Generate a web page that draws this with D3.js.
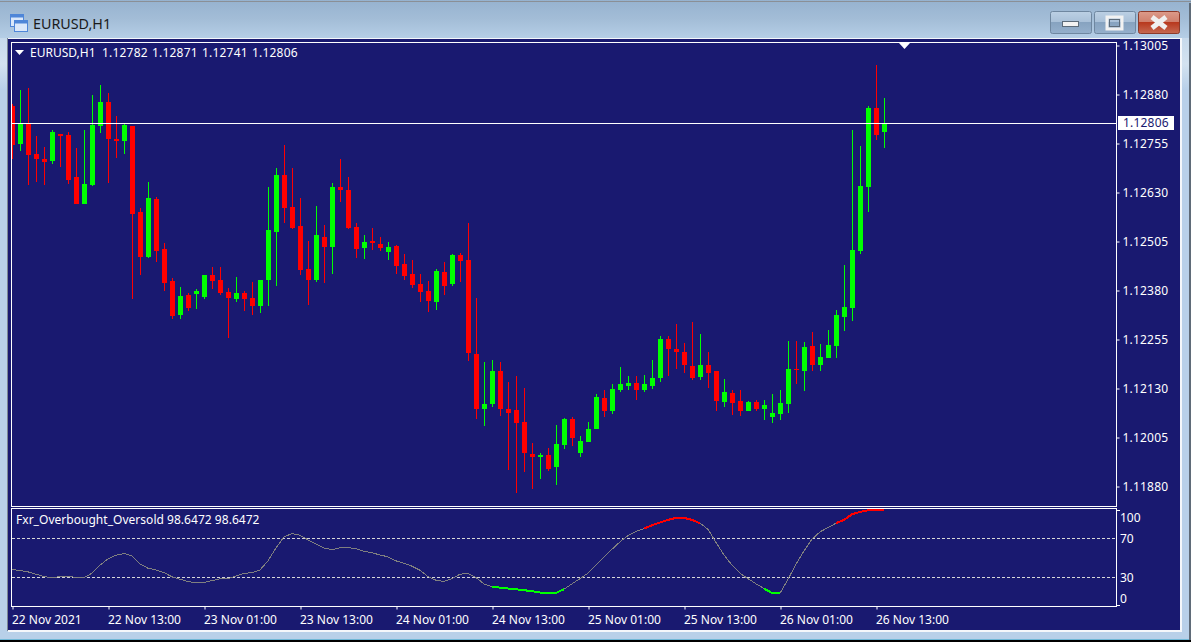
<!DOCTYPE html>
<html>
<head>
<meta charset="utf-8">
<title>EURUSD,H1</title>
<script src="https://cdn.jsdelivr.net/npm/d3@7"></script>
<style>
  html, body { margin: 0; padding: 0; background: #000; }
  svg { display: block; }
  text { font-family: "Noto Sans", sans-serif; }
</style>
</head>
<body>
<div id="canvas"></div>
<script>
// Constants related to the size of the canvas.
const WIDTH = 1191;
const HEIGHT = 642;

// Chart areas.
const LEFT = 12;
const RIGHT = 1116;
const MAIN_TOP = 42;
const MAIN_BOTTOM = 506;
const SUB_TOP = 508;
const SUB_BOTTOM = 606;

const NAVY = "#191970";
const UP = "#00ff00";
const DOWN = "#ff0000";

// The dataset, one entry per hourly bar.
const opens = [
  1.12849, 1.12752, 1.12806, 1.12727, 1.12714, 1.12709, 1.12778, 1.12775, 1.12668, 1.12599,
  1.12648, 1.12798, 1.12860, 1.12765, 1.12760, 1.12798, 1.12579, 1.12464, 1.12612, 1.12485,
  1.12403, 1.12316, 1.12367, 1.12370, 1.12362, 1.12418, 1.12406, 1.12375, 1.12357, 1.12372,
  1.12360, 1.12339, 1.12406, 1.12528, 1.12673, 1.12592, 1.12543, 1.12434, 1.12406, 1.12515,
  1.12490, 1.12643, 1.12635, 1.12541, 1.12487, 1.12505, 1.12497, 1.12477, 1.12492, 1.12446,
  1.12421, 1.12395, 1.12377, 1.12349, 1.12426, 1.12395, 1.12469, 1.12457, 1.12217, 1.12076,
  1.12089, 1.12173, 1.12076, 1.12074, 1.12043, 1.11962, 1.11954, 1.11959, 1.11928, 1.11985,
  1.12051, 1.11964, 1.11992, 1.12025, 1.12105, 1.12071, 1.12125, 1.12135, 1.12143, 1.12125,
  1.12135, 1.12156, 1.12255, 1.12229, 1.12222, 1.12186, 1.12158, 1.12189, 1.12173, 1.12094,
  1.12117, 1.12097, 1.12071, 1.12094, 1.12076, 1.12056, 1.12064, 1.12089, 1.12178, 1.12173,
  1.12237, 1.12189, 1.12207, 1.12237, 1.12311, 1.12334, 1.12479, 1.12643, 1.12844, 1.12782
];
const highs = [
  1.12854, 1.12890, 1.12895, 1.12773, 1.12745, 1.12788, 1.12778, 1.12783, 1.12742, 1.12788,
  1.12877, 1.12903, 1.12883, 1.12824, 1.12806, 1.12798, 1.12589, 1.12656, 1.12617, 1.12500,
  1.12411, 1.12388, 1.12372, 1.12383, 1.12418, 1.12439, 1.12439, 1.12385, 1.12413, 1.12377,
  1.12400, 1.12406, 1.12643, 1.12691, 1.12750, 1.12691, 1.12615, 1.12505, 1.12594, 1.12546,
  1.12653, 1.12714, 1.12668, 1.12551, 1.12520, 1.12538, 1.12515, 1.12502, 1.12495, 1.12472,
  1.12457, 1.12421, 1.12403, 1.12434, 1.12451, 1.12472, 1.12474, 1.12551, 1.12360, 1.12196,
  1.12201, 1.12196, 1.12145, 1.12161, 1.12130, 1.11990, 1.11964, 1.11977, 1.12036, 1.12053,
  1.12056, 1.12008, 1.12043, 1.12115, 1.12125, 1.12140, 1.12184, 1.12161, 1.12161, 1.12163,
  1.12201, 1.12263, 1.12263, 1.12293, 1.12245, 1.12298, 1.12268, 1.12222, 1.12173, 1.12153,
  1.12125, 1.12125, 1.12097, 1.12099, 1.12099, 1.12115, 1.12125, 1.12250, 1.12250, 1.12247,
  1.12273, 1.12242, 1.12278, 1.12329, 1.12444, 1.12788, 1.12747, 1.12849, 1.12954, 1.12871
];
const lows = [
  1.12714, 1.12735, 1.12648, 1.12656, 1.12648, 1.12701, 1.12694, 1.12650, 1.12599, 1.12599,
  1.12645, 1.12781, 1.12653, 1.12717, 1.12727, 1.12357, 1.12418, 1.12462, 1.12451, 1.12377,
  1.12306, 1.12306, 1.12326, 1.12332, 1.12357, 1.12383, 1.12367, 1.12258, 1.12349, 1.12326,
  1.12316, 1.12321, 1.12339, 1.12390, 1.12551, 1.12536, 1.12418, 1.12342, 1.12400, 1.12398,
  1.12421, 1.12605, 1.12536, 1.12462, 1.12459, 1.12482, 1.12479, 1.12457, 1.12421, 1.12406,
  1.12385, 1.12349, 1.12324, 1.12329, 1.12367, 1.12390, 1.12400, 1.12199, 1.12051, 1.12033,
  1.12082, 1.12059, 1.11921, 1.11862, 1.11916, 1.11872, 1.11898, 1.11918, 1.11883, 1.11974,
  1.11982, 1.11954, 1.11992, 1.12025, 1.12056, 1.12064, 1.12120, 1.12125, 1.12099, 1.12120,
  1.12127, 1.12145, 1.12161, 1.12178, 1.12168, 1.12150, 1.12150, 1.12130, 1.12071, 1.12082,
  1.12061, 1.12059, 1.12071, 1.12071, 1.12048, 1.12041, 1.12048, 1.12066, 1.12140, 1.12122,
  1.12173, 1.12173, 1.12207, 1.12207, 1.12275, 1.12301, 1.12472, 1.12579, 1.12763, 1.12741
];
const closes = [
  1.12750, 1.12806, 1.12724, 1.12714, 1.12707, 1.12783, 1.12773, 1.12661, 1.12599, 1.12650,
  1.12801, 1.12860, 1.12765, 1.12760, 1.12801, 1.12574, 1.12464, 1.12615, 1.12479, 1.12398,
  1.12314, 1.12365, 1.12334, 1.12377, 1.12418, 1.12403, 1.12372, 1.12360, 1.12372, 1.12357,
  1.12339, 1.12406, 1.12533, 1.12673, 1.12589, 1.12538, 1.12431, 1.12406, 1.12520, 1.12490,
  1.12643, 1.12635, 1.12538, 1.12485, 1.12502, 1.12500, 1.12487, 1.12490, 1.12441, 1.12416,
  1.12393, 1.12375, 1.12352, 1.12428, 1.12390, 1.12469, 1.12454, 1.12219, 1.12076, 1.12089,
  1.12173, 1.12076, 1.12066, 1.12041, 1.11964, 1.11954, 1.11959, 1.11923, 1.11987, 1.12051,
  1.12002, 1.11995, 1.12025, 1.12107, 1.12071, 1.12127, 1.12140, 1.12143, 1.12125, 1.12140,
  1.12156, 1.12255, 1.12229, 1.12222, 1.12189, 1.12156, 1.12189, 1.12168, 1.12097, 1.12120,
  1.12092, 1.12071, 1.12094, 1.12076, 1.12087, 1.12066, 1.12092, 1.12178, 1.12176, 1.12235,
  1.12189, 1.12209, 1.12240, 1.12316, 1.12337, 1.12482, 1.12645, 1.12844, 1.12775, 1.12806
];

// Fxr_Overbought_Oversold values for the same bars.
const oscillator = [
  37.2, 36.2, 34.8, 32.4, 30.0, 28.6, 30.0, 30.0, 29.3, 29.0,
  33.4, 41.6, 48.1, 51.9, 53.6, 51.2, 43.0, 38.5, 36.8, 34.1,
  29.7, 27.3, 24.9, 23.5, 23.8, 25.9, 27.6, 27.9, 30.7, 33.1,
  34.1, 36.8, 46.1, 59.4, 70.7, 74.1, 72.4, 67.6, 63.5, 59.1,
  57.7, 59.4, 59.7, 58.7, 56.0, 54.3, 52.2, 50.2, 46.1, 43.7,
  40.6, 36.5, 30.0, 26.2, 24.9, 27.9, 32.4, 33.1, 29.0, 22.5,
  19.4, 18.7, 17.7, 17.0, 16.0, 15.0, 13.6, 12.9, 13.2, 17.0,
  22.5, 27.9, 33.4, 41.6, 49.8, 58.0, 65.6, 72.1, 76.2, 79.2,
  82.6, 85.4, 88.1, 90.2, 90.2, 88.1, 84.7, 78.5, 64.9, 52.2,
  41.6, 33.4, 27.9, 22.5, 17.7, 13.2, 12.9, 27.3, 42.6, 56.3,
  68.3, 75.8, 80.3, 84.7, 88.1, 93.9, 96.3, 98.0, 98.6, 98.6472
];

// Bar ranges where the oscillator is drawn thick.
const overboughtRuns = [[79, 86], [103, 109]];
const oversoldRuns = [[60, 69], [94, 96]];

// Axis labels.
const priceTicks = [1.13005, 1.12880, 1.12755, 1.12630, 1.12505, 1.12380, 1.12255, 1.12130, 1.12005, 1.11880];
const levelTicks = [70, 30];
const timeTicks = [0, 12, 24, 36, 48, 60, 72, 84, 96, 108];
const timeLabels = [
  "22 Nov 2021", "22 Nov 13:00", "23 Nov 01:00", "23 Nov 13:00", "24 Nov 01:00",
  "24 Nov 13:00", "25 Nov 01:00", "25 Nov 13:00", "26 Nov 01:00", "26 Nov 13:00"
];
const lastPrice = 1.12806;
const quote = ["1.12782", "1.12871", "1.12741", "1.12806"];

// Creates the SVG element.
const svg = d3.select("#canvas")
  .append("svg")
  .attr("width", WIDTH)
  .attr("height", HEIGHT);

const defs = svg.append("defs");

function gradient(id, stops) {
  const g = defs.append("linearGradient")
    .attr("id", id)
    .attr("x1", 0).attr("y1", 0)
    .attr("x2", 0).attr("y2", 1);
  stops.forEach(s => g.append("stop").attr("offset", s[0]).attr("stop-color", s[1]));
}

gradient("titleBar", [[0, "#96b2cf"], [0.5, "#a3bdd7"], [1, "#b5cee6"]]);
gradient("sideBar", [[0, "#b5cee6"], [0.1, "#d3e2f0"], [0.14, "#b8d0e9"], [1, "#b8d0e9"]]);
gradient("captionButton", [[0, "#bcd0e4"], [0.48, "#a9c0d8"], [0.5, "#87a3c0"], [1, "#95b0cc"]]);
gradient("closeButton", [[0, "#dc9b8a"], [0.48, "#cf7f6c"], [0.5, "#b8391e"], [1, "#c66a52"]]);

defs.append("clipPath")
  .attr("id", "mainClip")
  .append("rect")
  .attr("x", LEFT).attr("y", MAIN_TOP + 1)
  .attr("width", RIGHT - LEFT).attr("height", MAIN_BOTTOM - MAIN_TOP - 1);

// Window chrome.
svg.append("rect").attr("width", WIDTH).attr("height", 640).attr("fill", "url(#sideBar)");
svg.append("rect").attr("width", WIDTH).attr("height", 38).attr("fill", "url(#titleBar)");
svg.append("rect").attr("x", 0).attr("y", 1).attr("width", WIDTH).attr("height", 1).attr("fill", "#8a8f96");
svg.append("rect").attr("x", 0).attr("y", 639).attr("width", WIDTH).attr("height", 1).attr("fill", "#6fb7d6");
svg.append("rect").attr("x", 7).attr("y", 38).attr("width", 2).attr("height", 593).attr("fill", "#7b8794");
svg.append("rect").attr("x", 8).attr("y", 38).attr("width", 1174).attr("height", 594).attr("fill", "#f4f7fb");
svg.append("rect").attr("x", 8).attr("y", 39).attr("width", 1172).attr("height", 591).attr("fill", NAVY);
svg.append("rect").attr("x", 1189).attr("y", 3).attr("width", 2).attr("height", 637).attr("fill", "#5f6b78");

// Title bar icon and caption.
const icon = svg.append("g");
icon.append("rect").attr("x", 10.5).attr("y", 14.5).attr("width", 13).attr("height", 12)
  .attr("fill", "#dbe8fa").attr("stroke", "#4f86d8");
icon.append("rect").attr("x", 14.5).attr("y", 20.5).attr("width", 13).attr("height", 11)
  .attr("fill", "#dbe8fa").attr("stroke", "#4f86d8");
icon.append("rect").attr("x", 10.5).attr("y", 14.5).attr("width", 13).attr("height", 3).attr("fill", "#4f86d8");
icon.append("rect").attr("x", 14.5).attr("y", 20.5).attr("width", 13).attr("height", 3).attr("fill", "#4f86d8");

svg.append("text")
  .attr("x", 33).attr("y", 29)
  .attr("font-size", 14.3)
  .attr("fill", "#1a1a1a")
  .text("EURUSD,H1");

// Caption buttons.
const buttons = [
  { x: 1050.5, w: 41, fill: "url(#captionButton)", stroke: "#6f87a0" },
  { x: 1094.5, w: 41, fill: "url(#captionButton)", stroke: "#6f87a0" },
  { x: 1138.5, w: 41, fill: "url(#closeButton)", stroke: "#8c3a2a" }
];
svg.selectAll("rect.captionButton")
  .data(buttons)
  .enter()
  .append("rect")
  .attr("class", "captionButton")
  .attr("x", d => d.x).attr("y", 11.5)
  .attr("width", d => d.w).attr("height", 22)
  .attr("rx", 2)
  .attr("fill", d => d.fill)
  .attr("stroke", d => d.stroke);

svg.append("rect").attr("x", 1062.5).attr("y", 21.5).attr("width", 16).attr("height", 5)
  .attr("fill", "#f2f2f2").attr("stroke", "#5c6b7a");
svg.append("rect").attr("x", 1107).attr("y", 17).attr("width", 15).attr("height", 12)
  .attr("fill", "none").attr("stroke", "#f2f2f2").attr("stroke-width", 3);
svg.append("rect").attr("x", 1109.5).attr("y", 19.5).attr("width", 10).attr("height", 7)
  .attr("fill", "none").attr("stroke", "#5c6b7a");
svg.append("path").attr("d", "M1152,17 L1166,28 M1166,17 L1152,28")
  .attr("stroke", "#f0f0f0").attr("stroke-width", 5);

// Creates the scales.
const xScale = d3.scaleLinear()
  .domain([0, 109])
  .range([12, 884]);

const yScale = d3.scaleLinear()
  .domain([1.11880, 1.13005])
  .range([486, 45]);

const levelScale = d3.scaleLinear()
  .domain([0, 100])
  .range([605.8, 508.3]);

const px = (i) => Math.round(xScale(i));
const py = (v) => Math.round(yScale(v));

// Draws the candles, wick first and then the body on top.
const candles = svg.append("g")
  .attr("clip-path", "url(#mainClip)")
  .selectAll("g")
  .data(d3.range(opens.length))
  .enter()
  .append("g")
  .attr("fill", i => closes[i] > opens[i] ? UP : DOWN);

candles.append("rect")
  .attr("x", i => px(i))
  .attr("y", i => py(highs[i]))
  .attr("width", 1)
  .attr("height", i => py(lows[i]) - py(highs[i]));

candles.append("rect")
  .attr("x", i => px(i) - 2)
  .attr("y", i => py(Math.max(opens[i], closes[i])))
  .attr("width", 5)
  .attr("height", i => Math.max(1, py(Math.min(opens[i], closes[i])) - py(Math.max(opens[i], closes[i]))));

// Last price line.
svg.append("rect")
  .attr("x", LEFT).attr("y", py(lastPrice))
  .attr("width", RIGHT - LEFT).attr("height", 1)
  .attr("fill", "#fff");

// Frames of both panes.
[[MAIN_TOP, MAIN_BOTTOM], [SUB_TOP, SUB_BOTTOM]].forEach(f => {
  svg.append("rect")
    .attr("x", LEFT - 0.5).attr("y", f[0] + 0.5)
    .attr("width", RIGHT - LEFT + 1).attr("height", f[1] - f[0])
    .attr("fill", "none")
    .attr("stroke", "#fff");
});

// Shift marker at the top and the legend marker.
svg.append("path").attr("d", "M899,43 L910,43 L904.5,49 Z").attr("fill", "#fff");
svg.append("path").attr("d", "M15,50 L24,50 L19.5,55 Z").attr("fill", "#fff");

// Pane legends.
svg.append("text")
  .attr("x", 30).attr("y", 57)
  .attr("font-size", 12).attr("fill", "#fff")
  .text("EURUSD,H1");

svg.selectAll("text.quote")
  .data(quote)
  .enter()
  .append("text")
  .attr("class", "quote")
  .attr("x", (d, i) => 102 + i * 50)
  .attr("y", 57)
  .attr("font-size", 12)
  .attr("letter-spacing", 0.2)
  .attr("fill", "#fff")
  .text(d => d);

svg.append("text")
  .attr("x", 16).attr("y", 524)
  .attr("font-size", 12).attr("fill", "#fff")
  .attr("letter-spacing", 0.03)
  .text("Fxr_Overbought_Oversold 98.6472 98.6472");

// Oscillator levels.
svg.selectAll("line.level")
  .data(levelTicks)
  .enter()
  .append("line")
  .attr("class", "level")
  .attr("x1", LEFT).attr("x2", RIGHT)
  .attr("y1", d => Math.round(levelScale(d)) + 0.5)
  .attr("y2", d => Math.round(levelScale(d)) + 0.5)
  .attr("stroke", "#d8d8d8")
  .attr("stroke-dasharray", "3,2");

// Oscillator line with the thick overbought and oversold runs on top.
const line = d3.line()
  .x((d, i) => xScale(i))
  .y(d => levelScale(d));

svg.append("path")
  .attr("d", line(oscillator))
  .attr("fill", "none")
  .attr("stroke", "#808080")
  .attr("shape-rendering", "crispEdges");

function thickRuns(runs, color) {
  runs.forEach(r => {
    const run = d3.range(r[0], r[1] + 1);
    svg.append("path")
      .attr("d", d3.line().x(i => xScale(i)).y(i => levelScale(oscillator[i]))(run))
      .attr("fill", "none")
      .attr("stroke", color)
      .attr("stroke-width", 2)
      .attr("shape-rendering", "crispEdges");
  });
}
thickRuns(overboughtRuns, DOWN);
thickRuns(oversoldRuns, UP);

// Creates and draws the axes.
const priceAxis = d3.axisRight(yScale)
  .tickValues(priceTicks)
  .tickFormat(d3.format(".5f"))
  .tickSize(3)
  .tickPadding(3);

const priceGroup = svg.append("g")
  .attr("transform", `translate(${RIGHT + 0.5}, 0.5)`)
  .call(priceAxis);

const timeAxis = d3.axisBottom(xScale)
  .tickValues(timeTicks)
  .tickFormat((d, i) => timeLabels[i])
  .tickSize(3)
  .tickPadding(6);

const timeGroup = svg.append("g")
  .attr("transform", `translate(0.5, ${SUB_BOTTOM + 0.5})`)
  .call(timeAxis);

timeGroup.selectAll("text").attr("text-anchor", "start").attr("dx", -1);

[priceGroup, timeGroup].forEach(g => {
  g.select(".domain").remove();
  g.attr("font-family", null).attr("font-size", null);
  g.selectAll("text").attr("font-size", 12).attr("fill", "#fff");
  g.selectAll("line").attr("stroke", "#fff");
});
priceGroup.selectAll("text").attr("letter-spacing", 0.2);

// Oscillator scale labels.
const levelLabels = [
  { text: "100", y: 517.5 },
  { text: "70", y: 538.5 },
  { text: "30", y: 577.5 },
  { text: "0", y: 598.5 }
];
svg.selectAll("text.levelLabel")
  .data(levelLabels)
  .enter()
  .append("text")
  .attr("class", "levelLabel")
  .attr("x", 1120)
  .attr("y", d => d.y)
  .attr("dy", "0.35em")
  .attr("font-size", 12)
  .attr("fill", "#fff")
  .text(d => d.text);

svg.append("path").attr("d", "M1117,510.5 H1120 M1117,605.5 H1120").attr("stroke", "#fff");

// Current price box on the price axis.
svg.append("rect")
  .attr("x", 1118).attr("y", py(lastPrice) - 7)
  .attr("width", 56).attr("height", 14)
  .attr("fill", "#fff");

svg.append("text")
  .attr("x", 1123).attr("y", py(lastPrice))
  .attr("dy", "0.36em")
  .attr("font-size", 12)
  .attr("letter-spacing", 0.2)
  .attr("fill", NAVY)
  .text(d3.format(".5f")(lastPrice));
</script>
</body>
</html>
